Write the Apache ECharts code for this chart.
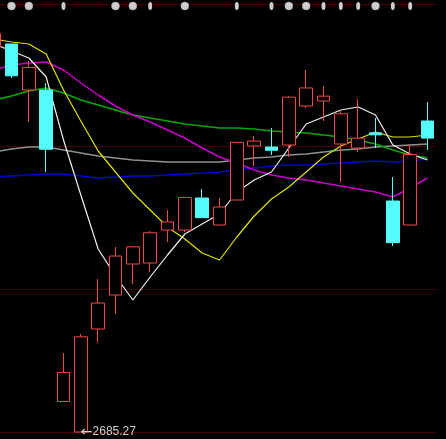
<!DOCTYPE html>
<html>
<head>
<meta charset="utf-8">
<script src="https://cdn.jsdelivr.net/npm/echarts@6/dist/echarts.min.js"></script>
<style>
html,body{margin:0;padding:0;background:#000;}
#chart{width:446px;height:439px;}
</style>
</head>
<body>
<div id="chart"></div>
<script>
// Daily bars, SSE Composite, Jan 20 - Mar 3 2020
const categories = ['2020-01-20','2020-01-21','2020-01-22','2020-01-23','2020-02-03','2020-02-04','2020-02-05','2020-02-06','2020-02-07','2020-02-10','2020-02-11','2020-02-12','2020-02-13','2020-02-14','2020-02-17','2020-02-18','2020-02-19','2020-02-20','2020-02-21','2020-02-24','2020-02-25','2020-02-26','2020-02-27','2020-02-28','2020-03-02','2020-03-03'];
const openVals  = [3081.82,3084.91,3037.53,3037.53,2716.70,2685.27,2791.36,2826.38,2858.31,2859.34,2893.33,2893.33,2926.29,2898.48,2924.23,2979.85,2978.82,2980.88,3021.05,3026.20,2981.91,2977.79,2993.40,2923.20,2898.48,3005.60];
const closeVals = [3095.79,3052.14,3060.75,2976.53,2746.61,2783.29,2818.09,2866.51,2875.96,2890.49,2901.67,2926.90,2906.07,2917.01,2983.62,2984.97,2975.40,3030.15,3039.67,3031.23,3013.05,2987.93,2991.33,2880.30,2970.93,2988.00];
const lowVals   = [3080.79,3049.89,3004.57,2953.07,2716.70,2685.27,2777.97,2806.81,2837.71,2850.07,2880.97,2891.27,2906.07,2898.48,2924.23,2959.25,2970.58,2968.52,3018.99,3005.60,2942.77,2973.67,2977.79,2876.85,2898.48,2975.73];
const highVals  = [3099.33,3084.91,3067.40,3044.74,2766.64,2786.21,2842.86,2875.82,2875.96,2892.30,2913.93,2926.90,2935.56,2926.29,2983.62,2990.15,2998.39,3031.20,3058.13,3041.65,3016.93,3028.26,3008.69,2947.92,2981.91,3025.17];

const ma5   = [3084.91,3077.70,3070.49,3050.92,2986.03,2929.38,2873.76,2845.95,2821.23,2844.92,2867.58,2889.21,2899.51,2909.81,2932.47,2944.83,2953.07,2977.79,3002.51,3009.72,3016.93,3020.02,3011.78,2980.88,2971.61,2965.43];
const ma10  = [3090.06,3086.97,3084.91,3074.61,3037.53,3005.60,2974.70,2953.07,2931.44,2913.93,2896.42,2884.06,2869.64,2862.43,2886.12,2907.75,2925.26,2937.62,2953.07,2968.52,2979.85,2987.06,2994.27,2989.12,2989.12,2991.18];
const ma20  = [3058.13,3063.28,3065.34,3066.37,3058.13,3044.74,3032.38,3021.05,3011.78,3004.57,2996.33,2988.09,2977.79,2968.52,2962.34,2955.13,2949.98,2946.89,2944.83,2941.74,2938.65,2935.56,2932.47,2927.32,2936.59,2946.89];
const ma30  = [3027.23,3031.35,3036.50,3039.59,3034.44,3027.23,3022.08,3016.93,3011.78,3008.69,3005.60,3002.51,3000.45,2998.39,2998.39,2997.36,2995.30,2994.27,2993.24,2991.18,2989.12,2986.03,2981.91,2975.73,2970.58,2967.49];
const ma60  = [2973.67,2976.76,2978.82,2978.82,2975.73,2972.64,2969.55,2967.49,2965.43,2964.40,2963.37,2963.37,2963.37,2963.37,2965.43,2967.49,2968.52,2970.58,2971.61,2973.67,2975.73,2976.76,2978.82,2979.85,2980.88,2981.91];
const ma120 = [2947.92,2948.95,2949.98,2951.01,2951.01,2948.95,2946.89,2947.92,2948.95,2948.95,2949.98,2951.01,2952.04,2953.07,2955.13,2957.19,2959.25,2960.28,2960.28,2961.31,2962.34,2963.37,2964.40,2963.37,2964.40,2966.46];

// signal markers along the top row (category indices)
const bigSignals   = [1,2,7,8,11,17,18,22];
const smallSignals = [4,9,14,16,19,20,21,23,24];

const priceMin = 2685.27;
const priceMax = 3126.11;
const gridStep = (priceMax - priceMin) / 3;

const kData = categories.map((c, i) => [openVals[i], closeVals[i], lowVals[i], highVals[i]]);

const chart = echarts.init(document.getElementById('chart'), null, {renderer: 'canvas'});

function maSeries(name, data, color, width) {
  return {
    name, type: 'line', data, xAxisIndex: 0, yAxisIndex: 0,
    symbol: 'none', smooth: false,
    lineStyle: {color, width}, z: 3, silent: true
  };
}

const option = {
  backgroundColor: '#000000',
  animation: false,
  grid: [
    {left: -14.5, right: 9.83, top: 4, bottom: 7, outerBoundsMode: 'none', containLabel: false},
    {left: -14.5, right: 9.83, top: 2, height: 8, outerBoundsMode: 'none', containLabel: false}
  ],
  xAxis: [
    {type: 'category', data: categories, gridIndex: 0, boundaryGap: true,
     axisLine: {show: false}, axisTick: {show: false}, axisLabel: {show: false}, splitLine: {show: false}},
    {type: 'category', data: categories, gridIndex: 1, boundaryGap: true,
     axisLine: {show: false}, axisTick: {show: false}, axisLabel: {show: false}, splitLine: {show: false}}
  ],
  yAxis: [
    {type: 'value', gridIndex: 0, min: priceMin, max: priceMax, interval: gridStep, scale: true,
     axisLine: {show: false}, axisTick: {show: false}, axisLabel: {show: false},
     splitLine: {show: true, lineStyle: {color: '#480000', width: 1}}},
    {type: 'category', gridIndex: 1, data: ['sig'],
     axisLine: {show: false}, axisTick: {show: false}, axisLabel: {show: false}, splitLine: {show: false}}
  ],
  series: [
    maSeries('MA120', ma120, '#0000d0', 1.6),
    maSeries('MA60', ma60, '#909090', 1.6),
    maSeries('MA30', ma30, '#00aa00', 1.6),
    maSeries('MA20', ma20, '#c800c8', 1.5),
    maSeries('MA10', ma10, '#e0e000', 1.2),
    maSeries('MA5', ma5, '#f0f0f0', 1.2),
    {
      name: 'K', type: 'candlestick', data: kData, xAxisIndex: 0, yAxisIndex: 0,
      barWidth: 13, z: 4,
      itemStyle: {
        color: '#000000', borderColor: '#f04848',
        color0: '#54fcfc', borderColor0: '#54fcfc', borderWidth: 1
      },
      markPoint: {
        symbol: 'circle', symbolSize: 0,
        data: [{type: 'min', valueDim: 'lowest'}],
        label: {
          show: true, position: 'right', distance: 0,
          formatter: p => '{a|\u2190}{b|' + Number(p.value).toFixed(2) + '}',
          rich: {
            a: {color: '#d0d0d0', fontSize: 14, fontFamily: 'DejaVu Sans, sans-serif'},
            b: {color: '#d0d0d0', fontSize: 12, fontFamily: 'Liberation Sans, Arial, sans-serif'}
          }
        }
      }
    },
    {
      name: 'sigBig', type: 'scatter', xAxisIndex: 1, yAxisIndex: 1,
      data: bigSignals.map(i => [i, 'sig']),
      symbol: 'circle', symbolSize: 8,
      itemStyle: {color: '#ffffff', borderColor: '#a0a0a0', borderWidth: 0.6}
    },
    {
      name: 'sigSmall', type: 'scatter', xAxisIndex: 1, yAxisIndex: 1,
      data: smallSignals.map(i => [i, 'sig']),
      symbol: 'circle', symbolSize: [4, 8],
      itemStyle: {color: '#ffffff'}
    }
  ]
};
chart.setOption(option);
</script>
</body>
</html>
